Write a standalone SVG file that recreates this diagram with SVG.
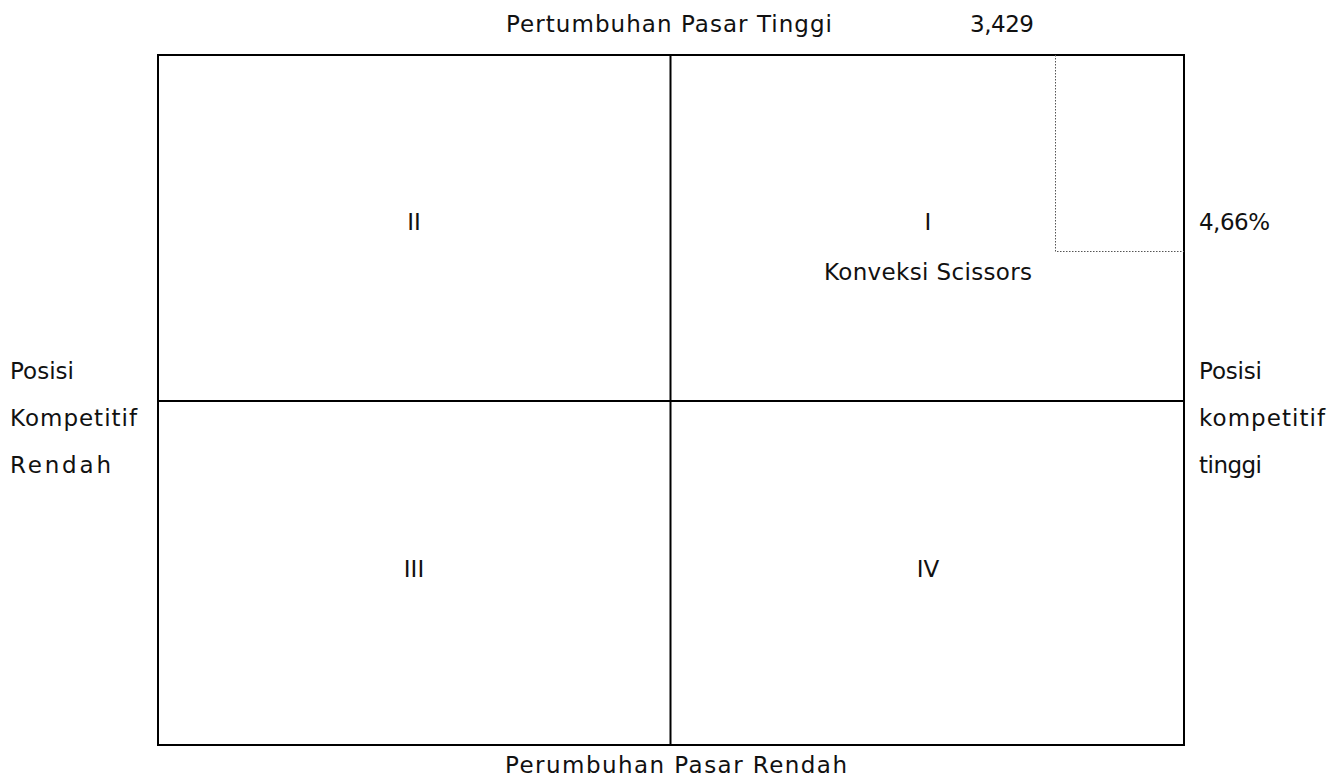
<svg xmlns="http://www.w3.org/2000/svg" width="1344" height="778" viewBox="0 0 1344 778">
<style>
text{font-family:"DejaVu Sans","Liberation Sans",sans-serif;font-size:23px;fill:#111}
.c{text-anchor:middle}
.frame{fill:none;stroke:#000;stroke-width:2}
.dot{fill:none;stroke:#555;stroke-width:1;stroke-dasharray:1.5,1.5}
</style>
<rect width="1344" height="778" fill="#fff"/>
<g id="connectors">
<rect class="frame" x="158" y="55" width="1026" height="690"/>
<line class="frame" x1="670.5" y1="55" x2="670.5" y2="745"/>
<line class="frame" x1="158" y1="401" x2="1184" y2="401"/>
<polyline class="dot" points="1055.5,55 1055.5,251.5 1184,251.5"/>
</g>
<g id="labels">
<text x="506" y="32" textLength="326">Pertumbuhan Pasar Tinggi</text>
<text x="970" y="32" textLength="64">3,429</text>
<text x="505" y="773" textLength="342">Perumbuhan Pasar Rendah</text>
<text x="10" y="379" textLength="64">Posisi</text>
<text x="10" y="426" textLength="127">Kompetitif</text>
<text x="10" y="473" textLength="101">Rendah</text>
<text x="1199" y="379" textLength="63">Posisi</text>
<text x="1199" y="426" textLength="126">kompetitif</text>
<text x="1199" y="473" textLength="63">tinggi</text>
<text x="1199" y="230" textLength="71">4,66%</text>
</g>
<g id="node-II"><text class="c" x="414" y="230">II</text></g>
<g id="node-I"><text class="c" x="928" y="230">I</text><text class="c" x="928" y="280" textLength="208">Konveksi Scissors</text></g>
<g id="node-III"><text class="c" x="414" y="577">III</text></g>
<g id="node-IV"><text class="c" x="928" y="577">IV</text></g>
</svg>
